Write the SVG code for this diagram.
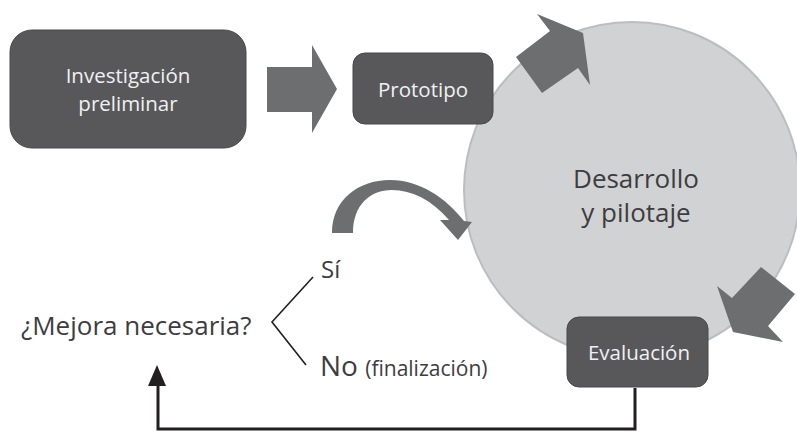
<svg xmlns="http://www.w3.org/2000/svg" width="797" height="432" viewBox="0 0 797 432">
  <defs>
    <style>
      .box { fill: #58585a; stroke: #48484a; stroke-width: 1; }
      .blk { fill: #6d6e70; }
      .boxt { font-family: "Open Sans", "Noto Sans", sans-serif; font-size: 20.5px; fill: #eef1f2; text-anchor: middle; }
      .lbl { font-family: "Open Sans", "Noto Sans", sans-serif; fill: #3d3d3f; }
      .ln { fill: none; stroke: #231f20; }
    </style>
  </defs>
  <rect width="797" height="432" fill="#ffffff"/>

  <g id="desarrollo">
    <circle cx="632" cy="190" r="168" fill="#d1d2d4" stroke="#bcbdc0" stroke-width="2"/>
    <text class="lbl" x="636" y="188" font-size="26" text-anchor="middle">Desarrollo</text>
    <text class="lbl" x="636" y="222" font-size="26" text-anchor="middle">y pilotaje</text>
  </g>

  <g id="investigacion">
    <rect class="box" x="10" y="30" width="236" height="118" rx="22"/>
    <text class="boxt" x="128" y="83">Investigación</text>
    <text class="boxt" x="128" y="111">preliminar</text>
  </g>

  <g id="prototipo">
    <rect class="box" x="353" y="53" width="140" height="71" rx="12"/>
    <text class="boxt" x="423" y="97" font-size="20.5">Prototipo</text>
  </g>

  <g id="evaluacion">
    <rect class="box" x="567" y="317" width="141" height="70" rx="12"/>
    <text class="boxt" x="639" y="360" font-size="22">Evaluación</text>
  </g>

  <g id="mejora">
    <text class="lbl" x="21" y="335" font-size="26">¿Mejora necesaria?</text>
  </g>
  <g id="si">
    <text class="lbl" x="321" y="278" font-size="24">Sí</text>
  </g>
  <g id="no">
    <text class="lbl" x="320" y="376" font-size="28">No <tspan font-size="21">(finalización)</tspan></text>
  </g>

  <g id="connectors">
    <polygon class="blk" points="267,67 312,67 312,45 337,89 312,133 312,112 267,112"/>
    <polygon class="blk" points="516,57 550,31 537,14 583,33 590,85 578,68 542,93"/>
    <polygon class="blk" points="761,267 795,294 768,326 783,342 733,332 717,286 732,298"/>
    <path class="blk" d="M332,233 C332,200 358,180 390,180 C420,180 446,198 464,221 L472,222 L458,240 L440,220 L449,220 C432,200 412,190 392,190 C370,190 353,205 353,233 Z"/>
    <polyline class="ln" points="313,277 272,322 306,365" stroke-width="1.6"/>
    <polyline class="ln" points="635,388 635,429 158,429 158,383" stroke-width="3"/>
    <polygon points="148,386 157,365 166,386" fill="#231f20"/>
  </g>
</svg>
